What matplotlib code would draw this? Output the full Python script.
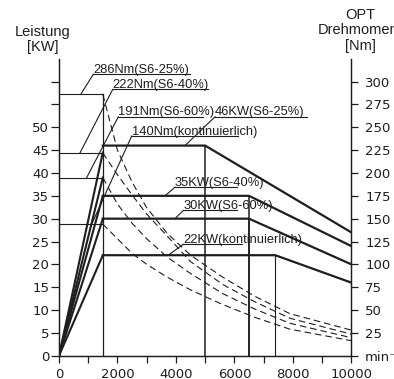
import numpy as np
import matplotlib.pyplot as plt

plt.rcParams["font.family"] = ["Liberation Sans", "DejaVu Sans"]

# speed [min-1], power [kW] on the left axis, torque [Nm] on the right axis
base_rpm = 1500
ramp_kw = [44.5, 39, 35, 30, 22]

power_names = ["46KW(S6-25%)", "35KW(S6-40%)", "30KW(S6-60%)", "22KW(kontinuierlich)"]
power_rpm = [[1500, 5000, 10000], [1500, 6500, 10000], [1500, 6500, 10000], [1500, 7400, 10000]]
power_kw = [[46, 46, 27], [35, 35, 24], [30, 30, 20], [22, 22, 16]]

torque_names = ["286Nm(S6-25%)", "222Nm(S6-40%)", "191Nm(S6-60%)", "140Nm(kontinuierlich)"]
torque_nm = [286, 222, 195, 144]

dash_rpm = [1500, 2000, 2500, 3000, 3700, 4500, 5600, 6700, 7900, 10000]
dash_nm = [
    [286, 225, 190, 162, 134, 110, 86, 65, 46, 28],
    [222, 198, 176, 155, 131, 103, 78, 59, 41, 23.6],
    [195, 166, 145, 128, 108, 90, 68, 51, 35.5, 19.7],
    [144, 128, 112, 100, 86, 72, 56, 42, 29, 16.4],
]

# label layout: text/underline start, underline end, underline height, leader end (rpm, kW units)
torque_lab = [(1173, 4482, 61.6, 742, 57.2), (1837, 5097, 58.3, 718, 44.4),
              (2029, 4937, 52.3, 948, 39.0), (2487, 6134, 48.1, 1119, 28.8)]
power_lab = [(5337, 8495, 52.3, 4311, 46), (3968, 6079, 36.9, 3626, 35),
             (4252, 6079, 31.8, 3968, 30), (4252, 6250, 24.4, 3739, 22)]

ink = "#1e1e1e"
fig = plt.figure(figsize=(3.94, 3.79), dpi=100)
ax = fig.add_axes([59/394, 23.3/379, 292.3/394, 296.9/379])
ax2 = ax.twinx()

ax.set_xlim(0, 10000)
ax.set_ylim(0, 65)
ax2.set_ylim(0, 325)

# torque plateau lines and base speed line (torque axis)
for t in torque_nm:
    ax2.plot([0, base_rpm], [t, t], color=ink, lw=0.8)
ax2.plot([base_rpm, base_rpm], [0, torque_nm[0]], color=ink, lw=0.9)

# torque decay (dashed)
for row in dash_nm:
    ax2.plot(dash_rpm, row, color=ink, lw=0.8, ls=(0, (6, 3.5)))

# power rise from zero
for p in ramp_kw:
    ax.plot([0, base_rpm], [0, p], color=ink, lw=1.5)

# power curves
vlw = [1.1, 1.1, 1.1, 0.8]
for i in range(4):
    ax.plot(power_rpm[i], power_kw[i], color=ink, lw=1.6, solid_joinstyle="miter")
    ax.plot([power_rpm[i][1]] * 2, [0, power_kw[i][1]], color=ink, lw=vlw[i])

# labels with underline and leader
for names, labs in ((torque_names, torque_lab), (power_names, power_lab)):
    for name, (x0, x1, y, lx, ly) in zip(names, labs):
        ax.plot([x0, x1], [y, y], color=ink, lw=0.8)
        ax.plot([x0, lx], [y, ly], color=ink, lw=0.8)
        ax.text(x0, y + 0.3, name, fontsize=9.3, color=ink, ha="left", va="baseline")

for a in (ax, ax2):
    a.spines["top"].set_visible(False)
    for s in a.spines.values():
        s.set_linewidth(0.9)
        s.set_color(ink)

ax.set_xticks(np.arange(0, 10001, 1000))
ax.set_xticklabels([str(v) if v % 2000 == 0 else "" for v in range(0, 10001, 1000)])
ax.set_yticks(np.arange(0, 61, 5))
ax.set_yticklabels([str(v) if v <= 50 else "" for v in range(0, 61, 5)])
ax.tick_params(axis="x", direction="out", length=5, width=0.9, pad=4, labelsize=9.5, colors=ink)
ax.tick_params(axis="y", direction="out", length=5.5, width=0.9, pad=1.5, labelsize=9.5, colors=ink)

ax2.set_yticks(np.arange(0, 301, 25))
ax2.set_yticklabels(["min\u207b\u00b9"] + [str(v) for v in range(25, 301, 25)])
ax2.tick_params(axis="y", direction="out", length=5, width=0.9, pad=5, labelsize=9.5, colors=ink)

for lab in ax.get_xticklabels() + ax.get_yticklabels() + ax2.get_yticklabels():
    lab.set_family("DejaVu Sans")

fig.text(43/394, 1 - 39.5/379, "Leistung\n[KW]", ha="center", va="center",
         fontsize=10.5, linespacing=1.1, color=ink)
fig.text(360/394, 1 - 30.5/379, "OPT\nDrehmoment\n[Nm]", ha="center", va="center",
         fontsize=10.5, linespacing=1.1, color=ink)

fig.savefig("out.png", dpi=100)
